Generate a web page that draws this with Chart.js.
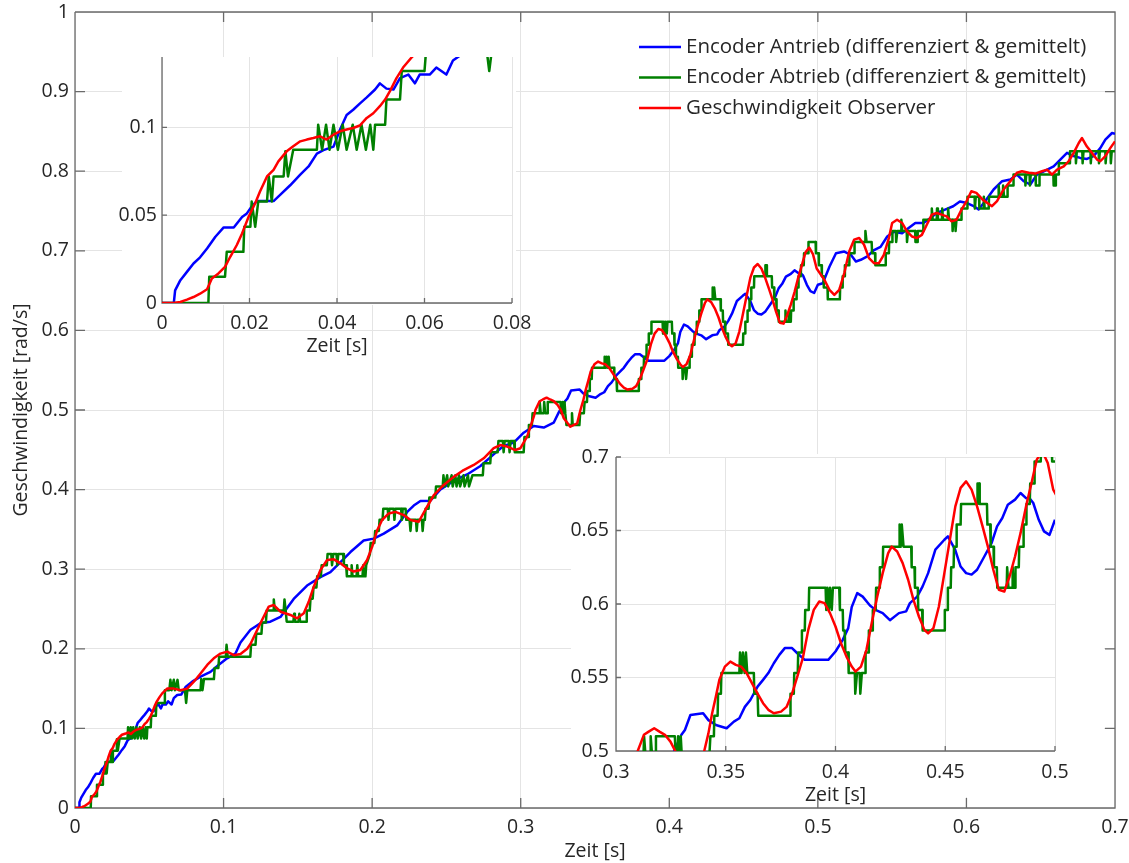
<!DOCTYPE html>
<html>
<head>
<meta charset="utf-8">
<title>Geschwindigkeit</title>
<script src="https://cdn.jsdelivr.net/npm/chart.js@4.4.1/dist/chart.umd.min.js"></script>
<style>
    html, body { margin: 0; padding: 0; background: #fff; }
    #wrap { position: relative; width: 1129px; height: 863px; overflow: hidden; }
    canvas { position: absolute; }
    #main { left: 0; top: 0; width: 1129px; height: 863px; }
    #inset1 { left: 95px; top: 40px; width: 445px; height: 330px; }
    #inset2 { left: 571px; top: 440px; width: 540px; height: 368px; }
</style>
</head>
<body>
<div id="wrap">
    <canvas id="main" width="1129" height="863"></canvas>
    <canvas id="inset1" width="445" height="330"></canvas>
    <canvas id="inset2" width="540" height="368"></canvas>
</div>
<script>
"use strict";

// series labels
const labels = [
    'Encoder Antrieb (differenziert & gemittelt)',
    'Encoder Abtrieb (differenziert & gemittelt)',
    'Geschwindigkeit Observer'
];

// [Zeit s, Geschwindigkeit rad/s]
const antrieb = [
    [0,0],[0.0027,0],[0.003,0.0072],[0.0042,0.013],[0.0057,0.0177],[0.0072,0.0225],[0.0087,0.026],[0.0103,0.031],
    [0.0122,0.0377],[0.0141,0.043],[0.0164,0.043],[0.0183,0.049],[0.0194,0.051],[0.0205,0.055],[0.0217,0.058],
    [0.0255,0.058],[0.027,0.0615],[0.0293,0.067],[0.0316,0.073],[0.0335,0.0777],[0.0354,0.085],[0.0369,0.087],
    [0.0392,0.089],[0.0407,0.0987],[0.0422,0.107],[0.0437,0.110],[0.0452,0.1135],[0.0468,0.117],[0.0487,0.1215],
    [0.0498,0.125],[0.0513,0.122],[0.0529,0.1215],[0.0544,0.128],[0.0563,0.130],[0.0578,0.125],[0.0589,0.130],
    [0.0612,0.130],[0.0627,0.134],[0.065,0.130],[0.0665,0.138],[0.0688,0.142],[0.0715,0.1425],[0.0744,0.152],
    [0.0789,0.1587],[0.0845,0.165],[0.0912,0.171],[0.0968,0.180],[0.1024,0.188],[0.108,0.194],[0.1114,0.208],
    [0.1181,0.224],[0.1248,0.232],[0.1315,0.234],[0.1383,0.240],[0.1472,0.2627],[0.1562,0.2795],[0.1652,0.290],
    [0.1719,0.2963],[0.1787,0.309],[0.1854,0.3216],[0.1943,0.336],[0.2011,0.3384],[0.2078,0.3447],[0.2168,0.355],
    [0.2236,0.3719],[0.228,0.38],[0.2325,0.3857],[0.2392,0.386],[0.246,0.4003],[0.2549,0.411],[0.2639,0.419],
    [0.2729,0.4296],[0.2818,0.4443],[0.2886,0.455],[0.2953,0.459],[0.302,0.4715],[0.3088,0.480],[0.3155,0.478],
    [0.3222,0.484],[0.3256,0.497],[0.3298,0.511],[0.3314,0.5143],[0.3339,0.5245],[0.3397,0.5257],[0.3421,0.521],
    [0.3455,0.5177],[0.3504,0.5155],[0.3537,0.520],[0.3562,0.5223],[0.3587,0.530],[0.3612,0.5347],[0.3645,0.5438],
    [0.367,0.5484],[0.3694,0.553],[0.3719,0.5597],[0.3744,0.5654],[0.3769,0.570],[0.3802,0.570],[0.3826,0.5665],
    [0.386,0.562],[0.3967,0.562],[0.4,0.5677],[0.4033,0.5756],[0.4058,0.5836],[0.4074,0.598],[0.4099,0.6074],
    [0.4124,0.605],[0.4157,0.599],[0.4182,0.596],[0.4215,0.5938],[0.4248,0.589],[0.4289,0.5938],[0.4322,0.595],
    [0.4339,0.6006],[0.4372,0.605],[0.4397,0.612],[0.4422,0.621],[0.4455,0.637],[0.4496,0.6437],[0.4512,0.646],
    [0.4545,0.637],[0.457,0.6255],[0.4595,0.621],[0.462,0.620],[0.4645,0.6233],[0.4678,0.6323],[0.4711,0.6414],
    [0.4736,0.6528],[0.476,0.6585],[0.4785,0.6675],[0.4818,0.671],[0.4843,0.6755],[0.4868,0.672],[0.4884,0.672],
    [0.4901,0.6687],[0.4926,0.6573],[0.495,0.6494],[0.4975,0.647],[0.5,0.6573],[0.5033,0.6593],[0.5078,0.680],
    [0.5122,0.697],[0.5178,0.699],[0.5222,0.695],[0.5256,0.6866],[0.5289,0.6887],[0.5333,0.693],[0.5378,0.701],
    [0.5422,0.705],[0.5467,0.718],[0.5511,0.724],[0.5567,0.722],[0.5611,0.7286],[0.5656,0.735],[0.5711,0.735],
    [0.5756,0.741],[0.58,0.7475],[0.5856,0.7517],[0.5911,0.756],[0.5956,0.762],[0.6004,0.760],[0.6049,0.756],
    [0.6082,0.752],[0.6127,0.7625],[0.6183,0.777],[0.624,0.7875],[0.6296,0.7896],[0.634,0.7958],[0.6385,0.7875],
    [0.643,0.7833],[0.6475,0.7958],[0.6531,0.8008],[0.6587,0.806],[0.6632,0.8146],[0.6677,0.823],[0.6721,0.819],
    [0.6766,0.8167],[0.6811,0.8154],[0.6856,0.819],[0.6901,0.829],[0.6935,0.8396],[0.698,0.848],[0.7,0.847]
];

const abtrieb = [
    [0,0],[0.0106,0],[0.0108,0.0149],[0.0144,0.0149],[0.0148,0.0291],[0.0186,0.0291],[0.0188,0.0434],[0.0202,0.0434],
    [0.0205,0.0577],[0.0213,0.0434],[0.022,0.0577],[0.024,0.0577],[0.0244,0.072],[0.0251,0.0577],[0.0255,0.072],
    [0.0278,0.072],[0.0282,0.0863],[0.0288,0.072],[0.03,0.0872],[0.0354,0.0872],[0.0357,0.1015],[0.0366,0.0872],
    [0.0375,0.1015],[0.0383,0.0872],[0.0392,0.1015],[0.0402,0.0872],[0.0413,0.1015],[0.0422,0.0872],[0.0436,0.1015],
    [0.0445,0.0872],[0.0456,0.1015],[0.0466,0.0872],[0.0476,0.1015],[0.0483,0.0872],[0.0487,0.1015],[0.051,0.1015],
    [0.0513,0.1158],[0.0544,0.1158],[0.0548,0.132],[0.06,0.132],[0.0605,0.148],[0.0635,0.148],[0.0642,0.161],
    [0.065,0.148],[0.0665,0.161],[0.0672,0.148],[0.069,0.161],[0.0698,0.148],[0.074,0.148],[0.0748,0.132],
    [0.0756,0.148],[0.0845,0.148],[0.085,0.162],[0.0858,0.148],[0.0868,0.162],[0.0935,0.162],[0.094,0.176],
    [0.0965,0.176],[0.097,0.19],[0.1015,0.19],[0.102,0.205],[0.1028,0.19],[0.118,0.19],[0.1185,0.205],[0.1215,0.205],
    [0.122,0.219],[0.1255,0.219],[0.126,0.233],[0.1285,0.233],[0.129,0.248],[0.1333,0.248],[0.1338,0.262],
    [0.1345,0.248],[0.1405,0.248],[0.141,0.262],[0.1418,0.248],[0.1425,0.234],[0.147,0.234],[0.1475,0.244],
    [0.148,0.234],[0.1505,0.234],[0.151,0.244],[0.1515,0.234],[0.1555,0.234],[0.156,0.248],[0.158,0.248],
    [0.1585,0.263],[0.16,0.263],[0.1605,0.277],[0.1625,0.277],[0.163,0.291],[0.1655,0.291],[0.166,0.305],
    [0.1695,0.305],[0.17,0.319],[0.1725,0.319],[0.173,0.305],[0.1738,0.319],[0.176,0.319],[0.1765,0.305],
    [0.1772,0.319],[0.1805,0.319],[0.181,0.305],[0.1825,0.305],[0.183,0.291],[0.1858,0.291],[0.1862,0.305],
    [0.1868,0.291],[0.1895,0.291],[0.19,0.305],[0.1906,0.291],[0.1935,0.291],[0.194,0.305],[0.1946,0.291],
    [0.1955,0.291],[0.196,0.305],[0.1985,0.319],[0.199,0.333],[0.2015,0.333],[0.202,0.348],[0.2045,0.348],
    [0.205,0.362],[0.207,0.362],[0.2075,0.376],[0.2105,0.376],[0.211,0.362],[0.2116,0.376],[0.2145,0.376],
    [0.215,0.362],[0.2156,0.376],[0.2195,0.376],[0.22,0.362],[0.2206,0.376],[0.2225,0.376],[0.223,0.362],
    [0.2252,0.362],[0.2258,0.348],[0.2264,0.362],[0.2295,0.362],[0.23,0.348],[0.2306,0.362],[0.2335,0.362],
    [0.234,0.348],[0.2346,0.362],[0.2355,0.362],[0.236,0.376],[0.238,0.376],[0.2385,0.39],[0.2425,0.39],
    [0.243,0.404],[0.2475,0.404],[0.248,0.418],[0.2488,0.404],[0.2505,0.418],[0.2512,0.404],[0.2535,0.418],
    [0.2542,0.404],[0.256,0.418],[0.2568,0.404],[0.2585,0.418],[0.2592,0.404],[0.2615,0.418],[0.2622,0.404],
    [0.2645,0.418],[0.2652,0.404],[0.2675,0.418],[0.2745,0.418],[0.275,0.433],[0.2795,0.433],[0.28,0.447],
    [0.2845,0.447],[0.285,0.461],[0.288,0.461],[0.2885,0.447],[0.2892,0.461],[0.292,0.461],[0.2925,0.447],
    [0.2932,0.461],[0.2955,0.461],[0.296,0.447],[0.302,0.447],[0.3025,0.466],[0.305,0.466],[0.3055,0.481],
    [0.3075,0.481],[0.308,0.496],[0.3125,0.496],[0.3128,0.51],[0.3135,0.496],[0.3155,0.496],[0.3158,0.51],
    [0.3165,0.496],[0.318,0.496],[0.3182,0.51],[0.3268,0.51],[0.3272,0.496],[0.328,0.496],[0.3283,0.51],
    [0.3288,0.496],[0.3295,0.51],[0.33,0.496],[0.3308,0.481],[0.334,0.481],[0.3345,0.496],[0.335,0.481],
    [0.3395,0.481],[0.34,0.496],[0.3425,0.496],[0.343,0.51],[0.3446,0.51],[0.3448,0.524],[0.3463,0.524],
    [0.3465,0.539],[0.3478,0.539],[0.348,0.553],[0.3562,0.553],[0.3565,0.567],[0.3572,0.553],[0.3578,0.567],
    [0.3586,0.553],[0.3592,0.567],[0.3598,0.553],[0.3628,0.553],[0.363,0.539],[0.3645,0.539],[0.3648,0.524],
    [0.3793,0.524],[0.3795,0.539],[0.381,0.539],[0.3812,0.553],[0.3828,0.553],[0.383,0.567],[0.3845,0.567],
    [0.3847,0.582],[0.386,0.582],[0.3862,0.596],[0.3878,0.596],[0.388,0.611],[0.3955,0.611],[0.3958,0.596],
    [0.3963,0.611],[0.397,0.596],[0.3975,0.611],[0.3983,0.596],[0.3988,0.611],[0.4017,0.611],[0.402,0.596],
    [0.4033,0.596],[0.4035,0.582],[0.4042,0.582],[0.4045,0.567],[0.4058,0.567],[0.406,0.553],[0.4088,0.553],
    [0.409,0.539],[0.4098,0.553],[0.411,0.553],[0.4113,0.539],[0.412,0.553],[0.4135,0.553],[0.4137,0.567],
    [0.415,0.567],[0.4152,0.582],[0.4168,0.582],[0.417,0.596],[0.4183,0.596],[0.4185,0.611],[0.42,0.611],
    [0.4202,0.625],[0.4215,0.625],[0.4217,0.639],[0.429,0.639],[0.4292,0.654],[0.4298,0.639],[0.4302,0.654],
    [0.431,0.639],[0.4345,0.639],[0.4347,0.625],[0.436,0.625],[0.4362,0.611],[0.4375,0.611],[0.4377,0.596],
    [0.4395,0.596],[0.4397,0.582],[0.4496,0.582],[0.4498,0.596],[0.451,0.596],[0.4512,0.611],[0.4525,0.611],
    [0.4527,0.625],[0.4538,0.625],[0.454,0.639],[0.455,0.639],[0.4552,0.654],[0.457,0.654],[0.4572,0.668],
    [0.4645,0.668],[0.4647,0.682],[0.4655,0.682],[0.4657,0.668],[0.469,0.668],[0.4692,0.654],[0.4705,0.654],
    [0.4707,0.639],[0.472,0.639],[0.4722,0.625],[0.4735,0.625],[0.4737,0.611],[0.478,0.611],[0.4782,0.625],
    [0.4788,0.611],[0.4805,0.611],[0.4807,0.625],[0.4812,0.611],[0.4818,0.611],[0.482,0.625],[0.4835,0.625],
    [0.4837,0.639],[0.4855,0.639],[0.4857,0.654],[0.4868,0.654],[0.487,0.668],[0.4885,0.668],[0.4887,0.682],
    [0.4905,0.682],[0.4907,0.697],[0.4935,0.697],[0.4937,0.711],[0.4985,0.711],[0.4987,0.697],[0.5005,0.697],
    [0.5007,0.682],[0.5025,0.682],[0.5027,0.668],[0.5038,0.668],[0.504,0.654],[0.5065,0.654],[0.5067,0.639],
    [0.5148,0.639],[0.515,0.654],[0.5165,0.654],[0.5167,0.668],[0.518,0.668],[0.5182,0.682],[0.521,0.682],
    [0.5212,0.697],[0.5245,0.697],[0.5247,0.711],[0.5318,0.711],[0.532,0.725],[0.5328,0.711],[0.5362,0.711],
    [0.5365,0.697],[0.5385,0.697],[0.5387,0.682],[0.5455,0.682],[0.5457,0.697],[0.5478,0.697],[0.548,0.711],
    [0.55,0.711],[0.5502,0.725],[0.5525,0.725],[0.5527,0.711],[0.5535,0.725],[0.556,0.725],[0.5562,0.739],
    [0.5568,0.725],[0.5598,0.725],[0.56,0.711],[0.5607,0.725],[0.5655,0.725],[0.5657,0.711],[0.567,0.711],
    [0.5672,0.725],[0.5708,0.725],[0.571,0.739],[0.5765,0.739],[0.5767,0.753],[0.5773,0.739],[0.58,0.739],
    [0.5802,0.753],[0.5808,0.739],[0.5835,0.739],[0.5837,0.753],[0.5843,0.739],[0.5875,0.739],[0.5877,0.753],
    [0.5883,0.739],[0.5905,0.739],[0.5907,0.725],[0.5913,0.739],[0.5925,0.739],[0.5927,0.725],[0.5933,0.739],
    [0.5965,0.739],[0.5967,0.753],[0.6005,0.753],[0.6007,0.768],[0.6055,0.768],[0.6057,0.753],[0.6063,0.768],
    [0.6085,0.768],[0.6087,0.753],[0.6115,0.753],[0.6117,0.768],[0.6123,0.753],[0.615,0.753],[0.6152,0.768],
    [0.6215,0.768],[0.6217,0.782],[0.6223,0.768],[0.6245,0.768],[0.6247,0.782],[0.6253,0.768],[0.6275,0.768],
    [0.6277,0.782],[0.6315,0.782],[0.6317,0.796],[0.6395,0.796],[0.6397,0.782],[0.6403,0.796],[0.6425,0.796],
    [0.6427,0.782],[0.6433,0.796],[0.6465,0.796],[0.6467,0.782],[0.649,0.782],[0.6492,0.796],[0.6585,0.796],
    [0.6587,0.782],[0.66,0.782],[0.6602,0.796],[0.662,0.796],[0.6622,0.81],[0.6695,0.81],[0.6697,0.825],
    [0.6735,0.825],[0.6737,0.81],[0.6743,0.825],[0.678,0.825],[0.6782,0.81],[0.6788,0.825],[0.6835,0.825],
    [0.6837,0.81],[0.6843,0.825],[0.689,0.825],[0.6892,0.81],[0.6898,0.825],[0.6935,0.825],[0.6937,0.81],
    [0.6943,0.825],[0.697,0.825],[0.6972,0.81],[0.6978,0.825],[0.7,0.825]
];

const observer = [
    [0,0],[0.0027,0],[0.0042,0.0006],[0.0057,0.0019],[0.0072,0.0034],[0.0087,0.0053],[0.0103,0.0078],[0.0114,0.0139],
    [0.0129,0.0168],[0.0144,0.0206],[0.0156,0.0263],[0.0171,0.033],[0.0183,0.0396],[0.0198,0.0491],[0.0213,0.0568],
    [0.0224,0.0634],[0.024,0.072],[0.0255,0.0758],[0.0266,0.0806],[0.0285,0.0863],[0.03,0.0892],[0.0316,0.092],
    [0.0331,0.093],[0.0346,0.0939],[0.0361,0.0949],[0.0376,0.093],[0.0392,0.0958],[0.0407,0.0977],[0.0422,0.0987],
    [0.0437,0.0996],[0.0452,0.101],[0.0468,0.1053],[0.0483,0.108],[0.0498,0.112],[0.051,0.1158],[0.0521,0.1206],
    [0.0536,0.128],[0.0551,0.134],[0.057,0.1396],[0.0587,0.144],[0.062,0.150],[0.0665,0.150],[0.071,0.148],
    [0.0755,0.150],[0.08,0.1587],[0.0845,0.169],[0.089,0.1797],[0.0934,0.188],[0.0979,0.194],[0.1024,0.1965],
    [0.1069,0.192],[0.1114,0.1935],[0.1159,0.200],[0.1181,0.206],[0.1248,0.232],[0.1304,0.253],[0.1338,0.255],
    [0.1383,0.2466],[0.145,0.2425],[0.1495,0.2383],[0.154,0.2446],[0.1573,0.259],[0.1607,0.278],[0.1652,0.299],
    [0.1697,0.3116],[0.1742,0.3124],[0.1787,0.3074],[0.1832,0.301],[0.1876,0.297],[0.1921,0.299],[0.1966,0.3116],
    [0.2,0.328],[0.2034,0.349],[0.2067,0.3618],[0.2112,0.370],[0.2157,0.372],[0.2213,0.368],[0.2258,0.3618],
    [0.2314,0.3597],[0.2359,0.375],[0.2415,0.393],[0.2482,0.4058],[0.2549,0.416],[0.2616,0.4246],[0.2684,0.431],
    [0.2751,0.4393],[0.2818,0.452],[0.2863,0.456],[0.2909,0.454],[0.2964,0.4497],[0.2998,0.452],[0.3043,0.4665],
    [0.3088,0.4916],[0.3099,0.5],[0.3127,0.511],[0.3149,0.5132],[0.3174,0.5155],[0.3198,0.5132],[0.3223,0.511],
    [0.3248,0.5064],[0.327,0.5],[0.329,0.4896],[0.3334,0.479],[0.338,0.4833],[0.3402,0.5],[0.3421,0.512],
    [0.3438,0.5257],[0.3455,0.537],[0.3471,0.5484],[0.3496,0.5574],[0.3521,0.5608],[0.3546,0.5586],[0.357,0.5574],
    [0.3595,0.553],[0.362,0.546],[0.3645,0.539],[0.367,0.5325],[0.3694,0.528],[0.3719,0.5257],[0.3752,0.5268],
    [0.3777,0.530],[0.3802,0.539],[0.3826,0.5506],[0.3851,0.5631],[0.3876,0.5824],[0.3901,0.596],[0.3926,0.6017],
    [0.395,0.6006],[0.3975,0.5938],[0.4,0.5847],[0.4025,0.5733],[0.405,0.5642],[0.4074,0.5574],[0.4091,0.554],
    [0.4116,0.5574],[0.4141,0.5688],[0.4165,0.587],[0.419,0.605],[0.4215,0.621],[0.424,0.6346],[0.4256,0.639],
    [0.4281,0.6357],[0.4306,0.6278],[0.4331,0.6165],[0.4355,0.603],[0.438,0.5915],[0.4405,0.5824],[0.4422,0.580],
    [0.4446,0.5835],[0.4471,0.5983],[0.4496,0.621],[0.4521,0.6437],[0.4546,0.6664],[0.457,0.679],[0.4595,0.6834],
    [0.462,0.6778],[0.4645,0.6664],[0.467,0.6528],[0.4694,0.6392],[0.4719,0.6233],[0.4744,0.6097],[0.4769,0.6085],
    [0.4793,0.6187],[0.4818,0.6323],[0.4843,0.6482],[0.4868,0.6664],[0.4893,0.6823],[0.4917,0.6982],[0.4942,0.704],
    [0.4967,0.6959],[0.4992,0.6778],[0.5044,0.6635],[0.5078,0.651],[0.5111,0.6446],[0.5144,0.651],[0.5178,0.672],
    [0.5211,0.699],[0.5244,0.714],[0.5278,0.716],[0.5311,0.7076],[0.5344,0.6908],[0.5378,0.6845],[0.5411,0.6845],
    [0.5444,0.695],[0.5478,0.716],[0.55,0.735],[0.5533,0.739],[0.5567,0.735],[0.56,0.7244],[0.5633,0.718],
    [0.5667,0.716],[0.57,0.720],[0.5733,0.7328],[0.5767,0.7454],[0.58,0.7475],[0.5833,0.7454],[0.5867,0.7433],
    [0.59,0.737],[0.5933,0.739],[0.5967,0.7517],[0.6,0.762],[0.6033,0.7748],[0.6067,0.7727],[0.6111,0.764],
    [0.6172,0.756],[0.6206,0.7625],[0.625,0.777],[0.6296,0.7875],[0.634,0.798],[0.6374,0.80],[0.6419,0.798],
    [0.6464,0.797],[0.6509,0.80],[0.6543,0.802],[0.6576,0.7958],[0.661,0.802],[0.6655,0.806],[0.6688,0.8125],
    [0.6722,0.823],[0.6756,0.8354],[0.6778,0.8417],[0.6811,0.831],[0.6845,0.823],[0.6879,0.8146],[0.6901,0.8125],
    [0.6935,0.819],[0.6968,0.829],[0.7,0.8375]
];

const seriesColors = ['rgb(0,0,255)', 'rgb(0,128,0)', 'rgb(255,0,0)'];

// axis ranges: [min, max, step]
const mainX = [0, 0.7, 0.1];
const mainY = [0, 1, 0.1];
const zoom1X = [0, 0.08, 0.02];
const zoom1Y = [0, 0.14, 0.05];
const zoom2X = [0.3, 0.5, 0.05];
const zoom2Y = [0.5, 0.7, 0.05];

const FONT = "'Open Sans', 'Noto Sans', sans-serif";
const TEXT_COLOR = '#262626';
const AXIS_COLOR = '#6a6a6a';
const GRID_COLOR = '#e4e4e4';

Chart.defaults.font.family = FONT;
Chart.defaults.color = TEXT_COLOR;

function fmt(v) {
    return String(Math.round(v * 10000) / 10000);
}

function makeDatasets() {
    const all = [antrieb, abtrieb, observer];
    return all.map((series, i) => ({
        label: labels[i],
        data: series.map(p => ({x: p[0], y: p[1]})),
        borderColor: seriesColors[i],
        borderWidth: 2.5,
        borderJoinStyle: 'round',
        pointRadius: 0,
        fill: false,
        tension: 0,
        clip: 0,
        order: 3 - i
    }));
}

function axis(range, o) {
    const step = range[2];
    return {
        type: 'linear',
        bounds: 'data',
        min: range[0],
        max: range[1],
        ticks: {
            stepSize: step,
            padding: o.pad,
            color: TEXT_COLOR,
            font: {size: 19.5},
            callback: fmt,
            maxRotation: 0,
            autoSkip: false
        },
        grid: {color: GRID_COLOR, drawTicks: false, lineWidth: 1},
        border: {display: false},
        title: {
            display: !!o.title,
            text: o.title || '',
            padding: o.titlePad || 0,
            color: TEXT_COLOR,
            font: {size: 19.5}
        },
        // only ticks on whole steps, no extra tick at an odd limit
        afterBuildTicks: s => {
            s.ticks = s.ticks.filter(t => Math.abs(t.value / step - Math.round(t.value / step)) < 1e-6);
        },
        afterFit: s => {
            if (s.isHorizontal()) {
                s.height = o.size;
            } else {
                s.width = o.size;
            }
            s.paddingLeft = 0;
            s.paddingRight = 0;
            s.paddingTop = 0;
            s.paddingBottom = 0;
        }
    };
}

// white paper behind the insets, axis lines and inward tick marks
const framePlugin = {
    id: 'frame',
    beforeDraw(chart, args, opts) {
        if (!opts.white) return;
        const a = chart.chartArea;
        const w = opts.white;
        const ctx = chart.ctx;
        ctx.save();
        ctx.fillStyle = '#ffffff';
        ctx.fillRect(a.left - w[0], a.top - w[1], a.right - a.left + w[0] + w[2], a.bottom - a.top + w[1] + w[3]);
        ctx.restore();
    },
    beforeDatasetsDraw(chart, args, opts) {
        const ctx = chart.ctx;
        const a = chart.chartArea;
        const xs = chart.scales.x;
        const ys = chart.scales.y;
        const len = opts.tick;
        ctx.save();
        ctx.strokeStyle = AXIS_COLOR;
        ctx.lineWidth = 1.3;
        ctx.beginPath();
        xs.ticks.forEach(t => {
            const px = xs.getPixelForValue(t.value);
            ctx.moveTo(px, a.bottom);
            ctx.lineTo(px, a.bottom - len);
            if (opts.box) {
                ctx.moveTo(px, a.top);
                ctx.lineTo(px, a.top + len);
            }
        });
        ys.ticks.forEach(t => {
            const py = ys.getPixelForValue(t.value);
            ctx.moveTo(a.left, py);
            ctx.lineTo(a.left + len, py);
            if (opts.box) {
                ctx.moveTo(a.right, py);
                ctx.lineTo(a.right - len, py);
            }
        });
        ctx.moveTo(a.left, a.top);
        ctx.lineTo(a.left, a.bottom);
        ctx.lineTo(a.right, a.bottom);
        if (opts.box) {
            ctx.lineTo(a.right, a.top);
            ctx.lineTo(a.left, a.top);
        }
        ctx.stroke();
        ctx.restore();
    }
};

// legend without box, top right inside the main plot
const legendPlugin = {
    id: 'lineLegend',
    afterDatasetsDraw(chart, args, opts) {
        const ctx = chart.ctx;
        ctx.save();
        ctx.font = opts.size + 'px ' + FONT;
        ctx.textBaseline = 'middle';
        ctx.textAlign = 'left';
        chart.data.datasets.forEach((ds, i) => {
            const y = opts.top + i * opts.row;
            ctx.strokeStyle = ds.borderColor;
            ctx.lineWidth = ds.borderWidth;
            ctx.beginPath();
            ctx.moveTo(opts.left - opts.gap - opts.line, y);
            ctx.lineTo(opts.left - opts.gap, y);
            ctx.stroke();
            ctx.fillStyle = TEXT_COLOR;
            ctx.fillText(ds.label, opts.left, y);
        });
        ctx.restore();
    }
};

function baseOptions(padding) {
    return {
        responsive: false,
        animation: false,
        devicePixelRatio: 1,
        events: [],
        layout: {padding: padding},
        plugins: {
            legend: {display: false},
            tooltip: {enabled: false}
        }
    };
}

// main plot
let mainOptions = baseOptions({top: 12, right: 14, left: 0, bottom: 0});
mainOptions.scales = {
    x: axis(mainX, {size: 55, pad: 8, title: 'Zeit [s]', titlePad: {top: 0, bottom: 0}}),
    y: axis(mainY, {size: 75, pad: 6, title: 'Geschwindigkeit [rad/s]', titlePad: {top: 10, bottom: 0}})
};
mainOptions.plugins.frame = {box: true, tick: 10};
mainOptions.plugins.lineLegend = {left: 686, top: 47, row: 30.5, line: 42, gap: 5, size: 20.5};

new Chart(document.getElementById('main'), {
    type: 'line',
    data: {datasets: makeDatasets()},
    options: mainOptions,
    plugins: [framePlugin, legendPlugin]
});

// inset: start-up
let inset1Options = baseOptions({top: 17, right: 28, left: 0, bottom: 0});
inset1Options.scales = {
    x: axis(zoom1X, {size: 67, pad: 9, title: 'Zeit [s]', titlePad: {top: 0, bottom: 12}}),
    y: axis(zoom1Y, {size: 67, pad: 5})
};
inset1Options.plugins.frame = {box: false, tick: 5, white: [40, 0, 4, 2]};

new Chart(document.getElementById('inset1'), {
    type: 'line',
    data: {datasets: makeDatasets()},
    options: inset1Options,
    plugins: [framePlugin]
});

// inset: oscillation
let inset2Options = baseOptions({top: 17, right: 56, left: 0, bottom: 0});
inset2Options.scales = {
    x: axis(zoom2X, {size: 57, pad: 10, title: 'Zeit [s]', titlePad: {top: 0, bottom: 1}}),
    y: axis(zoom2Y, {size: 45, pad: 7})
};
inset2Options.plugins.frame = {box: false, tick: 5, white: [45, 3, 49, 46]};

new Chart(document.getElementById('inset2'), {
    type: 'line',
    data: {datasets: makeDatasets()},
    options: inset2Options,
    plugins: [framePlugin]
});
</script>
</body>
</html>
